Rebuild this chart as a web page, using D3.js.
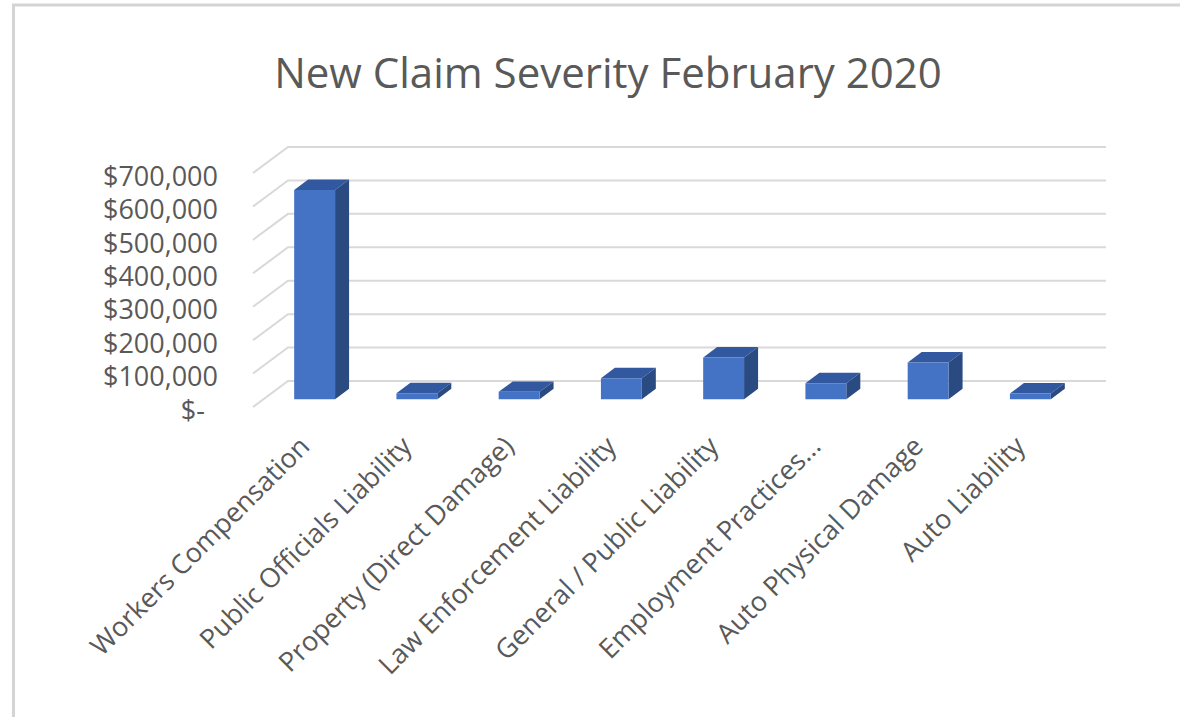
<!DOCTYPE html>
<html>
<head>
<meta charset="utf-8">
<script src="https://cdn.jsdelivr.net/npm/d3@7"></script>
<style>
  body { margin: 0; background: #fff; }
  text { font-family: "Open Sans", sans-serif; fill: #595959; }
</style>
</head>
<body>
<div id="chart"></div>
<script>
// datos
var categories = ["Workers Compensation", "Public Officials Liability", "Property (Direct Damage)",
  "Law Enforcement Liability", "General / Public Liability", "Employment Practices\u2026",
  "Auto Physical Damage", "Auto Liability"];
var severity = [626000, 18000, 22000, 63000, 125000, 48000, 110000, 17000];
var yTicks = [0, 100000, 200000, 300000, 400000, 500000, 600000, 700000];
var title = "New Claim Severity February 2020";

// tamaños
var svg_w = 1180;
var svg_h = 717;
var x0 = 253;          // esquina frontal izquierda del piso
var plot_w = 818;
var depth_x = 35;      // profundidad oblicua
var depth_y = 26;

var svg = d3.select("#chart")
  .append("svg")
  .attr("width", svg_w)
  .attr("height", svg_h);

// borde del area del grafico
svg.append("rect")
  .attr("x", 13.5)
  .attr("y", 5)
  .attr("width", svg_w + 20)
  .attr("height", svg_h + 20)
  .attr("fill", "none")
  .attr("stroke", "#d4d4d4")
  .attr("stroke-width", 3);

var x_scale = d3.scaleBand()
  .domain(categories)
  .range([0, plot_w])
  .paddingInner(0.6)
  .paddingOuter(0.3);

// escala en la pared de fondo
var y_scale = d3.scaleLinear()
  .domain([0, 700000])
  .range([381, 147]);

// proyeccion oblicua: d = 0 frente, d = 1 fondo
function proj(x, v, d) {
  return [x0 + x + d * depth_x, y_scale(v) + (1 - d) * depth_y];
}

// lineas de la cuadricula (pared lateral + fondo)
svg.append("g")
  .selectAll("polyline")
  .data(yTicks)
  .enter()
  .append("polyline")
  .attr("points", function(t) {
    return [proj(0, t, 0), proj(0, t, 1), proj(plot_w, t, 1)].join(" ");
  })
  .attr("fill", "none")
  .attr("stroke", "#d9d9d9")
  .attr("stroke-width", 2);

// etiquetas del eje y
var fmt = d3.format(",");
svg.append("g")
  .selectAll("text")
  .data(yTicks)
  .enter()
  .append("text")
  .attr("x", function(t) { return t === 0 ? 205 : 218; })
  .attr("y", function(t) { return proj(0, t, 0)[1] + 3; })
  .attr("dy", "0.36em")
  .attr("text-anchor", "end")
  .style("font-size", "27px")
  .text(function(t) { return t === 0 ? "$-" : "$" + fmt(t); });

// barras 3D
var d_front = 0.3, d_back = 0.7;
var bars = svg.append("g")
  .selectAll("g")
  .data(severity)
  .enter()
  .append("g");

// cara superior
bars.append("polygon")
  .attr("points", function(v, i) {
    var bx = x_scale(categories[i]), bw = x_scale.bandwidth();
    return [proj(bx, v, d_front), proj(bx + bw, v, d_front), proj(bx + bw, v, d_back), proj(bx, v, d_back)].join(" ");
  })
  .attr("fill", "#3259a0");

// cara lateral
bars.append("polygon")
  .attr("points", function(v, i) {
    var bx = x_scale(categories[i]) + x_scale.bandwidth();
    return [proj(bx, 0, d_front), proj(bx, v, d_front), proj(bx, v, d_back), proj(bx, 0, d_back)].join(" ");
  })
  .attr("fill", "#2a4a82");

// cara frontal
bars.append("polygon")
  .attr("points", function(v, i) {
    var bx = x_scale(categories[i]), bw = x_scale.bandwidth();
    return [proj(bx, 0, d_front), proj(bx + bw, 0, d_front), proj(bx + bw, v, d_front), proj(bx, v, d_front)].join(" ");
  })
  .attr("fill", "#4472c4");

// etiquetas del eje x (rotadas)
svg.append("g")
  .selectAll("text")
  .data(categories)
  .enter()
  .append("text")
  .attr("transform", function(c) {
    var cx = x0 + x_scale(c) + x_scale.bandwidth() / 2 + 7;
    return "translate(" + cx + ",448) rotate(-45)";
  })
  .attr("text-anchor", "end")
  .style("font-size", "27px")
  .text(function(c) { return c; });

// titulo
svg.append("text")
  .attr("x", 608)
  .attr("y", 88)
  .attr("text-anchor", "middle")
  .style("font-size", "42px")
  .text(title);
</script>
</body>
</html>
